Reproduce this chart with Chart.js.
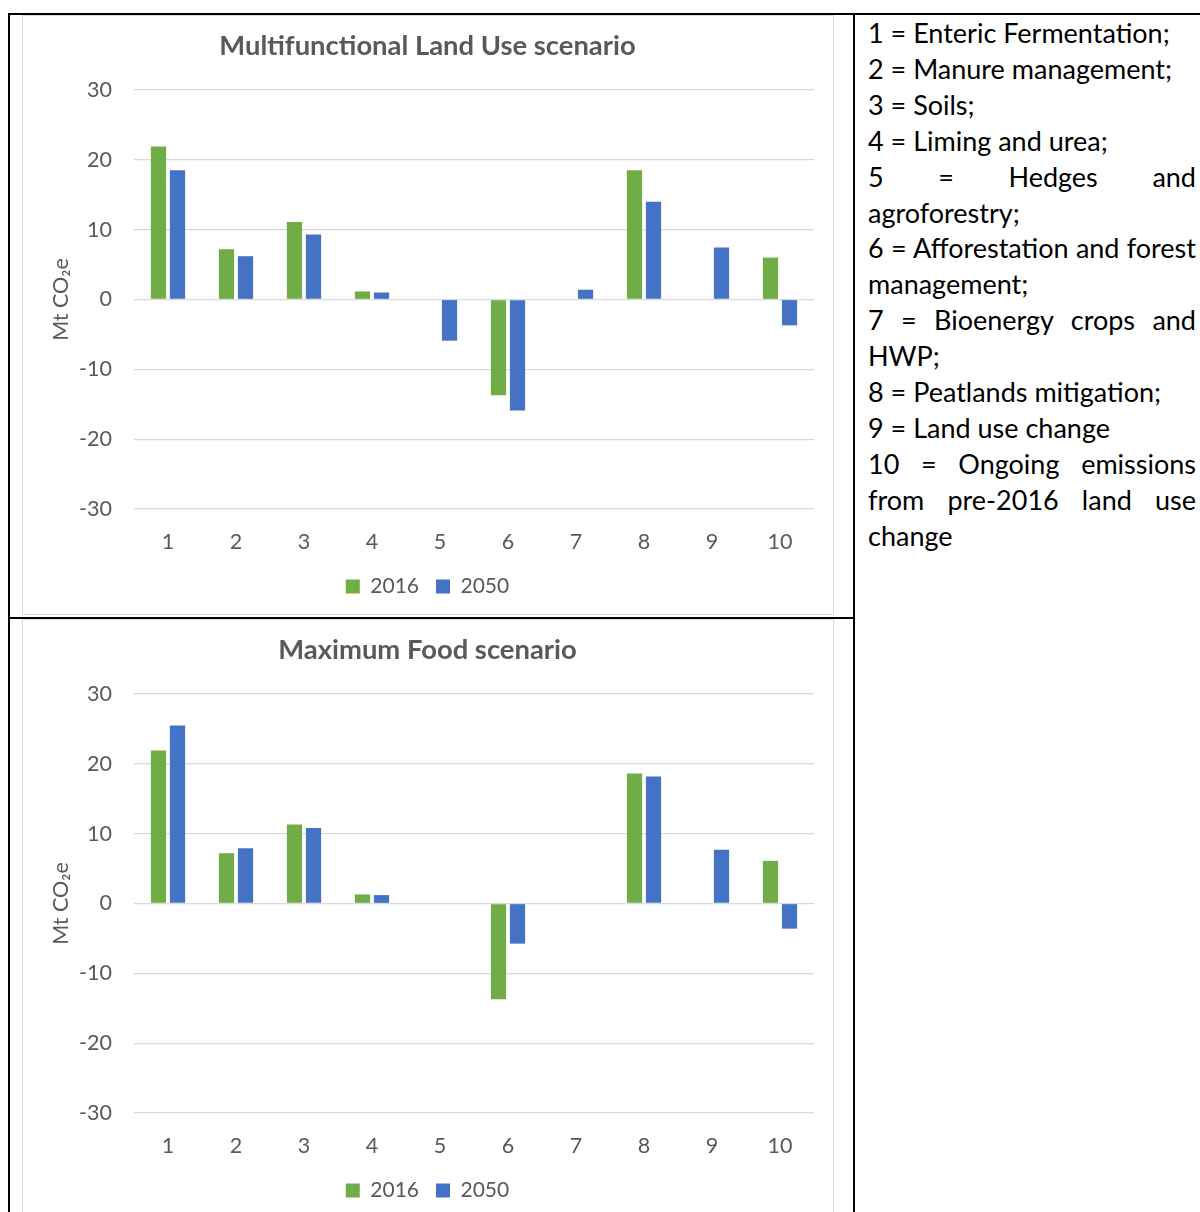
<!DOCTYPE html>
<html>
<head>
<meta charset="utf-8">
<script src="https://cdn.jsdelivr.net/npm/chart.js@4/dist/chart.umd.min.js"></script>
<style>
  html, body { margin: 0; padding: 0; background: #fff; }
  body { width: 1200px; height: 1212px; position: relative; overflow: hidden; font-family: Lato, "Noto Sans", sans-serif; }
  .rule { position: absolute; background: #000; }
  .frame { position: absolute; border: 1px solid #d9d9d9; box-sizing: border-box; }
  canvas.chart { position: absolute; }
  #key { position: absolute; left: 868px; top: 15px; width: 328px; font-size: 27px; line-height: 35.9px; color: #000; }
  #key div { white-space: nowrap; }
  #key div.j { text-align: justify; text-align-last: justify; white-space: normal; }
</style>
</head>
<body>
  <!-- table rules -->
  <div class="rule" style="left:8px; top:13px; width:1200px; height:2px;"></div>
  <div class="rule" style="left:8px; top:13px; width:2px; height:1200px;"></div>
  <div class="rule" style="left:853px; top:13px; width:2px; height:1200px;"></div>
  <div class="rule" style="left:8px; top:617px; width:847px; height:2px;"></div>

  <div class="frame" style="left:22px; top:15px; width:812px; height:600px;"></div>
  <div class="frame" style="left:22px; top:619px; width:812px; height:610px;"></div>

  <canvas id="mlu" class="chart" width="811" height="601" style="left:22px; top:15px;"></canvas>
  <canvas id="mf" class="chart" width="811" height="601" style="left:22px; top:619px;"></canvas>

  <div id="key"></div>

<script>
// Emission categories (see key on the right)
const categories = ['1', '2', '3', '4', '5', '6', '7', '8', '9', '10'];
const seriesNames = ['2016', '2050'];
const yTicks = [-30, -20, -10, 0, 10, 20, 30];

// Multifunctional Land Use scenario, Mt CO2e
const mlu2016 = [21.9, 7.2, 11.1, 1.15, 0, -13.7, 0, 18.5, 0, 6.0];
const mlu2050 = [18.5, 6.2, 9.3, 1.0, -5.9, -15.9, 1.4, 14.0, 7.45, -3.7];

// Maximum Food scenario, Mt CO2e
const mf2016 = [21.9, 7.2, 11.3, 1.3, 0, -13.7, 0, 18.6, 0, 6.1];
const mf2050 = [25.5, 7.9, 10.8, 1.2, 0, -5.75, 0, 18.2, 7.7, -3.6];

// Key lines; true marks lines set fully justified
const keyLines = [
  ['1 = Enteric Fermentation;', false],
  ['2 = Manure management;', false],
  ['3 = Soils;', false],
  ['4 = Liming and urea;', false],
  ['5 = Hedges and', true],
  ['agroforestry;', false],
  ['6 = Afforestation and forest', true],
  ['management;', false],
  ['7 = Bioenergy crops and', true],
  ['HWP;', false],
  ['8 = Peatlands mitigation;', false],
  ['9 = Land use change', false],
  ['10 = Ongoing emissions', true],
  ['from pre-2016 land use', true],
  ['change', false]
];

const key = document.getElementById('key');
keyLines.forEach(([t, j]) => {
  const d = document.createElement('div');
  d.textContent = t;
  if (j) d.className = 'j';
  key.appendChild(d);
});

const FONT = 'Lato, "Noto Sans", sans-serif';
const GREY = '#595959';
const GREEN = '#70AD47';
const BLUE = '#4472C4';

function makeChart(id, title, d2016, d2050) {
  return new Chart(document.getElementById(id), {
    type: 'bar',
    data: {
      labels: categories,
      datasets: [
        { label: seriesNames[0], data: d2016, backgroundColor: GREEN },
        { label: seriesNames[1], data: d2050, backgroundColor: BLUE }
      ]
    },
    options: {
      responsive: false,
      animation: false,
      layout: { padding: { left: 19, right: 19, top: 0, bottom: 9 } },
      datasets: { bar: { categoryPercentage: 0.56, barPercentage: 0.8 } },
      plugins: {
        title: {
          display: true, text: title, color: GREY,
          font: { family: FONT, size: 27.4, weight: 'bold' },
          padding: { top: 14.6, bottom: 27.5 }
        },
        legend: {
          position: 'bottom',
          labels: { boxWidth: 14, boxHeight: 14, color: GREY, font: { family: FONT, size: 21 }, padding: 17 }
        },
        tooltip: { enabled: false }
      },
      scales: {
        x: {
          grid: { display: false },
          border: { display: false },
          ticks: { color: GREY, font: { family: FONT, size: 21.5 }, padding: 12 },
          afterFit(s) { s.height = 50; }
        },
        y: {
          min: yTicks[0], max: yTicks[yTicks.length - 1],
          afterBuildTicks(s) { s.ticks = yTicks.map(v => ({ value: v })); },
          ticks: { color: GREY, font: { family: FONT, size: 21.5 }, padding: 22 },
          grid: { color: '#d9d9d9', lineWidth: 1.3, drawTicks: false },
          border: { display: false },
          title: { display: true, text: 'Mt CO₂e', color: GREY, font: { family: FONT, size: 21.5 }, padding: { top: 7, bottom: 0 } },
          afterFit(s) { s.width = 93; }
        }
      }
    }
  });
}

makeChart('mlu', 'Multifunctional Land Use scenario', mlu2016, mlu2050);
makeChart('mf', 'Maximum Food scenario', mf2016, mf2050);
</script>
</body>
</html>
